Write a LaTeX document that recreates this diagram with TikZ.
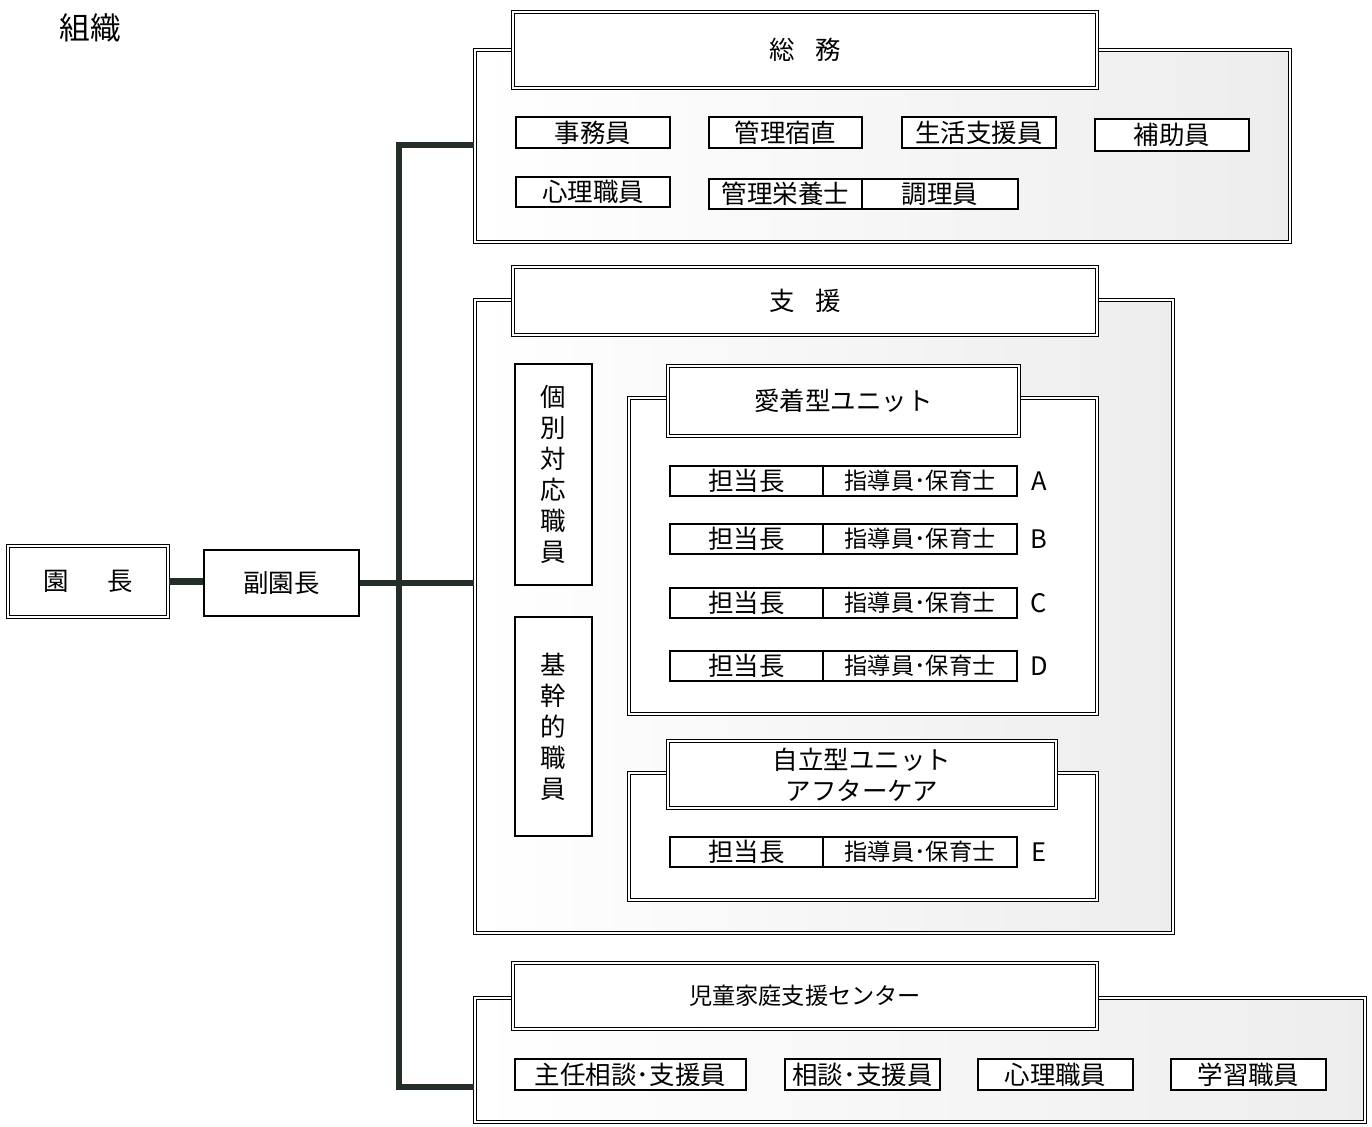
\documentclass[tikz,border=0pt]{standalone}
\usepackage{fontspec}
\setmainfont{Noto Sans CJK JP}
\usetikzlibrary{fit,positioning}
\definecolor{trunkc}{RGB}{34,46,38}
\newcommand{\fitem}{\fontsize{14.5pt}{17.6pt}\selectfont}
\newcommand{\fsmall}{\fontsize{13.2pt}{17pt}\selectfont}

\begin{document}
\begin{tikzpicture}[x=0.02cm,y=-0.02cm,
  dbl/.style={draw,double,line width=0.6pt,double distance=1.6pt,inner sep=0pt},
  grp/.style={dbl,left color=white,right color=black!7},
  sub/.style={dbl,fill=white},
  ttl/.style={dbl,fill=white,label={[font=\fitem,align=center]center:#1}},
  itm/.style={draw,line width=0.8pt,fill=white,inner sep=0pt,label={[font=\fitem,align=center]center:#1}},
  duty/.style={draw,line width=0.8pt,fill=white,inner sep=0pt,label={[font=\fsmall]center:#1}},
  tag/.style={font=\fitem},
  trunk/.style={line width=3.6pt,trunkc,line join=miter}]
\useasboundingbox (0,0) rectangle (1372,1126);

\node[font=\fontsize{17.5pt}{20pt}\selectfont] (soshiki) at (90,28) {組織};

% 総務
\node[grp,fit={(475,50)(1290,242)}] (somuF) {};
\node[ttl={総\hspace{0.8em}務},fit={(513,12)(1097,88)}] (somuT) {};
\node[itm=事務員,fit={(516,117)(670,148)}] (jimu) {};
\node[itm=管理宿直,fit={(709,117)(862,148)}] (shukuchoku) {};
\node[itm=生活支援員,fit={(902,117)(1056,148)}] (seikatsu) {};
\node[itm=補助員,fit={(1095,119)(1249,151)}] (hojo) {};
\node[itm=心理職員,fit={(516,177)(670,207)}] (shinri) {};
\node[itm=管理栄養士,fit={(709,179)(862,209)}] (eiyo) {};
\node[itm=調理員,fit={(862,179)(1018,209)}] (chori) {};

% 支援
\node[grp,fit={(475,300)(1173,933)}] (shienF) {};
\node[ttl={支\hspace{0.8em}援},fit={(513,267)(1097,335)}] (shienT) {};
\node[itm={個\\別\\対\\応\\職\\員},fit={(515,364)(592,585)}] (kobetsu) {};
\node[itm={基\\幹\\的\\職\\員},fit={(515,617)(592,836)}] (kikan) {};

\node[sub,fit={(629,398)(1097,714)}] (aichakuF) {};
\node[ttl=愛着型ユニット,fit={(668,366)(1019,436)}] (aichakuT) {};
\foreach \r/\y in {A/466,B/524,C/588,D/651}{
  \node[itm=担当長,fit={(670,\y)(823,\y+30)}] (chief\r) {};
  \node[duty=指導員･保育士,fit={(823,\y)(1017,\y+30)}] (staff\r) {};
  \node[tag,right=12pt of staff\r.east,anchor=center] (lab\r) {\r};
}

\node[sub,fit={(629,773)(1097,900)}] (jiritsuF) {};
\node[ttl={自立型ユニット\\アフターケア},fit={(668,741)(1056,808)}] (jiritsuT) {};
\node[itm=担当長,fit={(670,837)(823,867)}] (chiefE) {};
\node[duty=指導員･保育士,fit={(823,837)(1017,867)}] (staffE) {};
\node[tag,right=12pt of staffE.east,anchor=center] (labE) {E};

% 児童家庭支援センター
\node[grp,fit={(475,998)(1365,1122)}] (jidoF) {};
\node[ttl={\fsmall 児童家庭支援センター},fit={(513,963)(1097,1029)}] (jidoT) {};
\node[itm=主任相談･支援員,fit={(515,1059)(746,1090)}] (shunin) {};
\node[itm=相談･支援員,fit={(785,1059)(940,1090)}] (sodan) {};
\node[itm=心理職員,fit={(978,1059)(1133,1090)}] (shinri2) {};
\node[itm=学習職員,fit={(1171,1059)(1326,1090)}] (gakushu) {};

% 園長・副園長
\node[ttl={園\hspace{1.5em}長},fit={(8,546)(168,617)}] (encho) {};
\node[itm=副園長,fit={(204,550)(359,616)}] (fuku) {};

\coordinate (top) at (399,145);
\coordinate (bot) at (399,1087);
\draw[trunk] (somuF.west |- top) -- (top) -- (bot) -- (jidoF.west |- bot);
\draw[trunk] (fuku.east) -- (fuku.east -| shienF.west);
\draw[trunk] (encho.east) -- (encho.east -| fuku.west);
\end{tikzpicture}
\end{document}
